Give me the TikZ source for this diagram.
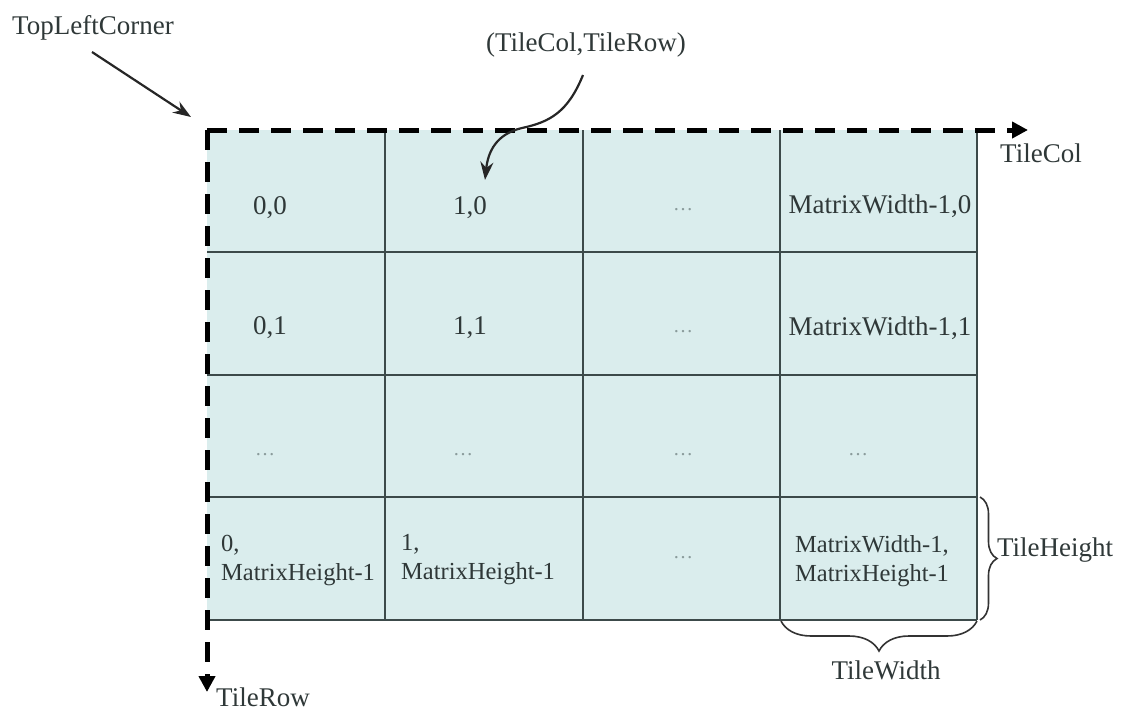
\documentclass[tikz,border=0pt]{standalone}
\usepackage{fontspec}
\setmainfont{Liberation Serif}
\usetikzlibrary{arrows.meta,decorations.pathreplacing}
\definecolor{cellfill}{HTML}{DAEDED}
\definecolor{gridline}{HTML}{3C4A4A}
\definecolor{txt}{HTML}{2F3838}
\definecolor{dotgray}{HTML}{8A9B9B}
\begin{document}
\begin{tikzpicture}[x=1pt,y=-1pt,
  lbl/.style={font=\fontsize{27}{30}\selectfont, text=txt, inner sep=0pt},
  celltxt/.style={font=\fontsize{27}{30}\selectfont, text=txt, inner sep=0pt},
  twoline/.style={font=\fontsize{24.5}{29}\selectfont, text=txt, inner sep=0pt, align=left, anchor=west},
  dots/.style={font=\fontsize{20}{22}\selectfont, text=dotgray, inner sep=0pt},
  gridln/.style={draw=gridline, line width=2pt},
  axis/.style={line width=5pt, dash pattern=on 20pt off 12pt, -{Triangle[length=16pt,width=16pt]}},
  pointer/.style={line width=2.2pt, draw=black!85, -{Stealth[length=18pt,width=13pt]}},
  bracestyle/.style={draw=black!80, line width=1.6pt, decorate}
]
\useasboundingbox (0,0) rectangle (1122,713);

% cells
\fill[cellfill] (207,130) rectangle (977,620);
\foreach \x in {385,583,780,977} \draw[gridln] (\x,130) -- (\x,620);
\foreach \y in {252,375,497,620} \draw[gridln] (207,\y) -- (977,\y);

% axes
\coordinate (O) at (207,130);
\coordinate (colend) at (1028,130);
\coordinate (rowend) at (207,692);
\draw[axis] (O) -- (colend);
\draw[axis] (O) -- (rowend);

% labels
\node[lbl] (tlc) at (93,28) {TopLeftCorner};
\node[lbl] (tcr) at (586,45) {(TileCol,TileRow)};
\node[lbl] (tcol) at (1041,153) {TileCol};
\node[lbl, anchor=base] (trow) at (263,706) {TileRow};
\node[lbl] (th) at (1055,550) {TileHeight};
\node[lbl] (tw) at (886,670) {TileWidth};

% pointer arrows
\coordinate (tlcStart) at (92,52);
\coordinate (tlcEnd) at (191,117);
\draw[pointer] (tlcStart) -- (tlcEnd);
\coordinate (tcrStart) at (583,75);
\coordinate (tcrMid) at (522,128);
\coordinate (tcrEnd) at (485,180);
\draw[pointer] (tcrStart) .. controls (568,112) and (550,122) .. (tcrMid) .. controls (496,134) and (488,152) .. (tcrEnd);

% row 0
\node[celltxt] (c00) at (270,208) {0,0};
\node[celltxt] (c10) at (470,208) {1,0};
\node[dots] (c20) at (683,210) {\ldots};
\node[celltxt] (c30) at (880,206) {MatrixWidth-1,0};
% row 1
\node[celltxt] (c01) at (270,328) {0,1};
\node[celltxt] (c11) at (470,328) {1,1};
\node[dots] (c21) at (683,332) {\ldots};
\node[celltxt] (c31) at (880,328) {MatrixWidth-1,1};
% row 2
\node[dots] (c02) at (265,455) {\ldots};
\node[dots] (c12) at (463,455) {\ldots};
\node[dots] (c22) at (683,455) {\ldots};
\node[dots] (c32) at (858,455) {\ldots};
% row 3
\node[twoline] (c03) at (221,560) {0,\\MatrixHeight-1};
\node[twoline] (c13) at (401,560) {1,\\MatrixHeight-1};
\node[dots] (c23) at (683,558) {\ldots};
\node[twoline] (c33) at (795,561) {MatrixWidth-1,\\MatrixHeight-1};

% braces
\coordinate (hb1) at (980,497);
\coordinate (hb2) at (980,620);
\draw[bracestyle, decoration={brace, amplitude=17pt}] (hb1) -- (hb2);
\coordinate (wb1) at (977,621);
\coordinate (wb2) at (781,621);
\draw[bracestyle, decoration={brace, amplitude=30pt}] (wb1) -- (wb2);
\end{tikzpicture}
\end{document}
